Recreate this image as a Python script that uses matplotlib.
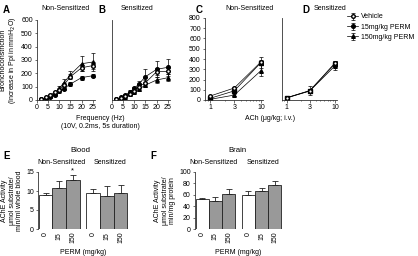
import matplotlib
matplotlib.use('Agg')
import matplotlib.pyplot as plt
import numpy as np

plt.rcParams['font.family'] = ['Liberation Sans', 'DejaVu Sans']
plt.rcParams['font.size'] = 5

# frequency response (panels A, B)
freq = [2, 4, 6, 8, 10, 12, 15, 20, 25]
a_veh = [5, 20, 40, 60, 78, 112, 175, 242, 258]
a_veh_err = [3, 6, 8, 10, 12, 15, 20, 22, 25]
a_15 = [5, 15, 25, 40, 65, 85, 120, 168, 182]
a_15_err = [3, 5, 6, 8, 10, 12, 18, 15, 10]
a_150 = [5, 18, 30, 50, 88, 130, 190, 272, 285]
a_150_err = [3, 6, 8, 10, 15, 25, 25, 55, 65]

b_veh = [5, 15, 28, 45, 67, 100, 130, 212, 215]
b_veh_err = [3, 5, 6, 8, 10, 14, 18, 25, 22]
b_15 = [8, 20, 35, 62, 87, 120, 175, 230, 245]
b_15_err = [3, 5, 8, 10, 12, 20, 55, 60, 65]
b_150 = [5, 12, 25, 45, 62, 80, 112, 150, 167]
b_150_err = [3, 4, 6, 8, 10, 12, 15, 25, 25]

# ACh dose response (panels C, D)
ach = [1, 3, 10]
c_veh = [38, 117, 371]
c_veh_err = [5, 10, 20]
c_15 = [16, 89, 365]
c_15_err = [4, 15, 50]
c_150 = [6, 48, 286]
c_150_err = [3, 10, 55]

d_veh = [22, 89, 362]
d_veh_err = [4, 10, 15]
d_15 = [22, 92, 352]
d_15_err = [4, 45, 25]
d_150 = [20, 88, 333]
d_150_err = [4, 12, 45]

# AChE activity (panels E, F)
doses = ['0', '15', '150']
e_nonsens = [8.9, 10.7, 12.8]
e_nonsens_err = [0.5, 2.0, 1.4]
e_sens = [9.4, 8.8, 9.6]
e_sens_err = [1.0, 2.4, 2.0]
f_nonsens = [52, 50, 61]
f_nonsens_err = [2, 6, 10]
f_sens = [60, 66, 77]
f_sens_err = [6, 6, 8]

W, H = 418, 256
fig = plt.figure(figsize=(W / 100, H / 100), dpi=100)
AX_COL = '#333333'
FS = 5


def px_axes(x0, y0, x1, y1):
    ax = fig.add_axes([x0 / W, 1 - y1 / H, (x1 - x0) / W, (y1 - y0) / H])
    for s in ['top', 'right']:
        ax.spines[s].set_visible(False)
    for s in ['left', 'bottom']:
        ax.spines[s].set_linewidth(0.6)
        ax.spines[s].set_color(AX_COL)
    ax.tick_params(width=0.5, length=1.8, pad=1.2, labelsize=FS, color=AX_COL)
    ax.patch.set_alpha(0)
    return ax


def lines(ax, x, veh, veh_e, p15, p15_e, p150, p150_e, m15='o'):
    kw = dict(color='black', lw=0.5, elinewidth=0.5, capsize=1.3, capthick=0.5, ms=2.6)
    ax.errorbar(x, p150, yerr=p150_e, marker='^', mfc='black', label='150mg/kg PERM', **kw)
    ax.errorbar(x, p15, yerr=p15_e, marker=m15, mfc='black', label='15mg/kg PERM', **kw)
    ax.errorbar(x, veh, yerr=veh_e, marker='o', mfc='white', label='Vehicle', **kw)


# panel A
axA = px_axes(37, 20, 95, 100)
lines(axA, freq, a_veh, a_veh_err, a_15, a_15_err, a_150, a_150_err)
axA.set_xlim(0, 26)
axA.set_ylim(0, 600)
axA.set_xticks([0, 5, 10, 15, 20, 25])
axA.set_yticks(range(0, 601, 100))
axA.set_ylabel('Bronchoconstriction\n(Increase in Ppi in mmH$_2$O)', fontsize=FS, labelpad=2,
               linespacing=1.1)

# panel B
axB = px_axes(112, 20, 170, 100)
lines(axB, freq, b_veh, b_veh_err, b_15, b_15_err, b_150, b_150_err)
axB.set_xlim(0, 26)
axB.set_ylim(0, 600)
axB.set_xticks([0, 5, 10, 15, 20, 25])
axB.set_yticks([])

# panel C
axC = px_axes(205, 18, 263, 100)
lines(axC, ach, c_veh, c_veh_err, c_15, c_15_err, c_150, c_150_err, m15='s')
axC.set_xscale('log')
axC.set_xlim(0.8, 11)
axC.set_ylim(0, 800)
axC.set_xticks(ach)
axC.set_xticklabels([str(v) for v in ach])
axC.set_yticks(range(0, 801, 100))
axC.tick_params(which='minor', length=1, width=0.4)

# panel D
axD = px_axes(282, 18, 337, 100)
lines(axD, ach, d_veh, d_veh_err, d_15, d_15_err, d_150, d_150_err, m15='s')
axD.set_xscale('log')
axD.set_xlim(0.8, 11)
axD.set_ylim(0, 800)
axD.set_xticks(ach)
axD.set_xticklabels([str(v) for v in ach])
axD.set_yticks([])
axD.tick_params(which='minor', length=1, width=0.4)

# legend
h, l = axA.get_legend_handles_labels()
fig.legend(h[::-1], l[::-1], loc='upper left', bbox_to_anchor=(344 / W, 1 - 10 / H),
           frameon=False, fontsize=FS, handlelength=1.5, handletextpad=0.4,
           labelspacing=0.45, borderpad=0)


def bars(ax, nonsens, nonsens_err, sens, sens_err, ymax, yticks):
    pos1 = np.arange(3)
    pos2 = np.arange(3) + 3.5
    cols = ['white', '#999999', '#999999']
    ekw = dict(elinewidth=0.6, capsize=2, capthick=0.6, ecolor='#222222')
    ax.bar(pos1, nonsens, width=1.0, color=cols, edgecolor='#222222', lw=0.6,
           yerr=[[0] * 3, nonsens_err], error_kw=ekw)
    ax.bar(pos2, sens, width=1.0, color=cols, edgecolor='#222222', lw=0.6,
           yerr=[[0] * 3, sens_err], error_kw=ekw)
    ax.set_xticks(list(pos1) + list(pos2))
    ax.set_xticklabels(doses * 2, rotation=90)
    ax.set_xlim(-0.55, 6.05)
    ax.set_ylim(0, ymax)
    ax.set_yticks(yticks)
    ax.spines['bottom'].set_visible(False)
    ax.tick_params(axis='x', length=0, pad=2)
    return pos1, pos2


# panel E
axE = px_axes(38, 172, 128, 229)
p1, p2 = bars(axE, e_nonsens, e_nonsens_err, e_sens, e_sens_err, 15, [0, 5, 10, 15])
axE.text(p1[2], e_nonsens[2] + e_nonsens_err[2] + 0.2, '*', ha='center', va='bottom', fontsize=5.5)
axE.set_ylabel('AChE Activity\n\u03bcmol substrate/\nmin/ml whole blood', fontsize=FS, labelpad=2,
               linespacing=1.1)
axE.set_xlabel('PERM (mg/kg)', fontsize=FS, labelpad=4)

# panel F
axF = px_axes(195, 172, 282, 229)
bars(axF, f_nonsens, f_nonsens_err, f_sens, f_sens_err, 100, range(0, 101, 20))
axF.set_ylabel('AChE Activity\n\u03bcmol substrate/\nmin/mg protein', fontsize=FS, labelpad=2,
               linespacing=1.1)
axF.set_xlabel('PERM (mg/kg)', fontsize=FS, labelpad=4)


def t(x, y, s, **kw):
    fig.text(x / W, 1 - y / H, s, **kw)


for x, y, s in [(3, 10, 'A'), (98, 10, 'B'), (196, 10, 'C'), (302, 10, 'D'),
                (3, 156, 'E'), (150, 156, 'F')]:
    t(x, y, s, fontsize=7, fontweight='bold', va='center')

for x, y, s in [(65, 9, 'Non-Sensitized'), (137, 9, 'Sensitized'),
                (250, 9, 'Non-Sensitized'), (330, 9, 'Sensitized'),
                (100, 118, 'Frequency (Hz)'), (100, 127, '(10V, 0.2ms, 5s duration)'),
                (270, 118, 'ACh (\u03bcg/kg; i.v.)'),
                (62, 163, 'Non-Sensitized'), (110, 163, 'Sensitized'),
                (213, 163, 'Non-Sensitized'), (263, 163, 'Sensitized')]:
    t(x, y, s, fontsize=FS, ha='center', va='center')

t(80, 150, 'Blood', fontsize=5.6, ha='center', va='center')
t(237, 150, 'Brain', fontsize=5.6, ha='center', va='center')

fig.savefig('out.png', dpi=100)
